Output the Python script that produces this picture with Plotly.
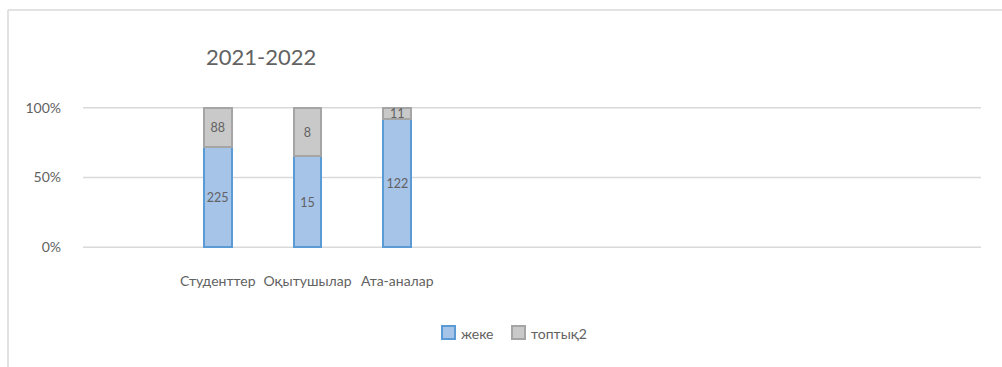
import plotly.graph_objects as go

positions = [1, 2, 3]
categories = ["Студенттер", "Оқытушылар", "Ата-аналар"]
zheke = [225, 15, 122]
toptyk2 = [88, 8, 11]
series_names = ["жеке", "топтық2"]
title_text = "2021-2022"
y_ticks = [0, 50, 100]
y_ticktext = ["0%", "50%", "100%"]

W, H = 1002, 367
L, R, T, B = 83, 21, 107, 119
pw = W - L - R
ph = H - T - B

def px_x(x):
    return (x - L) / pw

def px_y(y):
    return (H - B - y) / ph

font = "Lato, Carlito, 'Liberation Sans', sans-serif"
txtc = "#626262"
grid_c = "#d9d9d9"
blue_fill, blue_line = "#a6c3e8", "#5b9bd5"
gray_fill, gray_line = "#c9c9c9", "#a5a5a5"

fig = go.Figure()
fig.add_trace(go.Bar(
    x=positions, y=zheke, name=series_names[0], width=0.31,
    marker=dict(color=blue_fill, line=dict(color=blue_line, width=2)),
    text=[str(v) for v in zheke], textposition="inside", insidetextanchor="middle",
    textfont=dict(color=txtc, size=14, family=font), textangle=0,
))
fig.add_trace(go.Bar(
    x=positions, y=toptyk2, name=series_names[1], width=0.31,
    marker=dict(color=gray_fill, line=dict(color=gray_line, width=2)),
    text=[str(v) for v in toptyk2], textposition="inside", insidetextanchor="middle",
    textfont=dict(color=txtc, size=14, family=font), textangle=0,
))

shapes = [
    dict(type="line", xref="paper", yref="paper", x0=px_x(8), x1=px_x(1002), y0=px_y(10), y1=px_y(10),
         line=dict(color=grid_c, width=1.5)),
    dict(type="line", xref="paper", yref="paper", x0=px_x(8), x1=px_x(8), y0=px_y(10), y1=px_y(367),
         line=dict(color=grid_c, width=1.5)),
    dict(type="rect", xref="paper", yref="paper", x0=px_x(442), x1=px_x(455), y0=px_y(326), y1=px_y(339),
         fillcolor=blue_fill, line=dict(color=blue_line, width=2)),
    dict(type="rect", xref="paper", yref="paper", x0=px_x(512), x1=px_x(525), y0=px_y(326), y1=px_y(339),
         fillcolor=gray_fill, line=dict(color=gray_line, width=2)),
]
for v in y_ticks:
    shapes.append(dict(type="line", xref="paper", yref="y", x0=0, x1=1, y0=v, y1=v,
                       layer="below", line=dict(color=grid_c, width=1.5)))

annotations = [
    dict(text=title_text, x=px_x(261), y=px_y(57), xref="paper", yref="paper",
         showarrow=False, xanchor="center", yanchor="middle",
         font=dict(size=22, color=txtc, family=font)),
    dict(text=series_names[0], x=px_x(459), y=px_y(333), xref="paper", yref="paper",
         showarrow=False, xanchor="left", yanchor="middle",
         font=dict(size=14, color=txtc, family=font)),
    dict(text=series_names[1], x=px_x(529), y=px_y(333), xref="paper", yref="paper",
         showarrow=False, xanchor="left", yanchor="middle",
         font=dict(size=14, color=txtc, family=font)),
]

fig.update_layout(
    width=W, height=H,
    margin=dict(l=L, r=R, t=T, b=B, pad=0),
    barmode="stack", barnorm="percent",
    paper_bgcolor="white", plot_bgcolor="white",
    font=dict(family=font, color=txtc, size=14),
    uniformtext=dict(minsize=8, mode="show"),
    showlegend=False,
    xaxis=dict(range=[-0.5, 9.5], tickmode="array", tickvals=positions, ticktext=categories,
               showgrid=False, zeroline=False, showline=False, ticks="",
               ticklabelstandoff=23, tickfont=dict(size=14, color=txtc, family=font)),
    yaxis=dict(range=[-0.5, 100.5], tickmode="array", tickvals=y_ticks, ticktext=y_ticktext,
               showgrid=False, zeroline=False, showline=False, ticks="",
               ticklabelstandoff=21, tickfont=dict(size=14, color=txtc, family=font)),
    annotations=annotations,
    shapes=shapes,
)

fig.write_html("out.html")
